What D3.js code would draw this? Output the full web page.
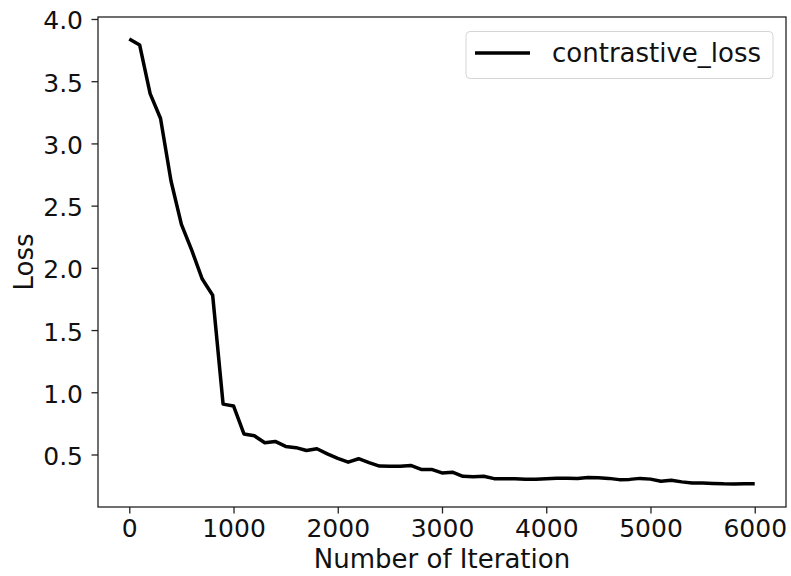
<!DOCTYPE html>
<html>
<head>
<meta charset="utf-8">
<script src="https://cdn.jsdelivr.net/npm/d3@7"></script>
<style>
  body { margin: 0; background: #fff; }
  text { font-family: "DejaVu Sans", sans-serif; fill: #111; }
</style>
</head>
<body>
<div class="chart"></div>
<script>
// data (one point every 100 iterations)
var iterations = d3.range(0, 6001, 100);
var lossValues = [
  3.84, 3.79, 3.40, 3.20, 2.70, 2.35, 2.14, 1.91, 1.78, 0.905,
  0.89, 0.665, 0.65, 0.595, 0.605, 0.565, 0.555, 0.532, 0.546, 0.505,
  0.468, 0.438, 0.466, 0.435, 0.407, 0.405, 0.405, 0.412, 0.38, 0.38,
  0.352, 0.358, 0.325, 0.322, 0.325, 0.306, 0.305, 0.306, 0.302, 0.302,
  0.306, 0.309, 0.31, 0.307, 0.315, 0.314, 0.308, 0.298, 0.30, 0.308,
  0.302, 0.285, 0.293, 0.28, 0.27, 0.271, 0.267, 0.264, 0.263, 0.264,
  0.264
];
var xTicks = [0, 1000, 2000, 3000, 4000, 5000, 6000];
var yTicks = [0.5, 1.0, 1.5, 2.0, 2.5, 3.0, 3.5, 4.0];
var seriesName = "contrastive_loss";
var xLabel = "Number of Iteration";
var yLabel = "Loss";

var svgWidth = 791;
var svgHeight = 576;

// plot frame in pixels
var margin = {
  top: 17,
  right: 5,
  bottom: 69,
  left: 98
};

var width = svgWidth - margin.left - margin.right;
var height = svgHeight - margin.top - margin.bottom;

var svg = d3
    .select(".chart")
    .append("svg")
    .attr("height", svgHeight)
    .attr("width", svgWidth);

svg.append("rect")
  .attr("width", svgWidth)
  .attr("height", svgHeight)
  .attr("fill", "#fff");

var chartGroup = svg.append("g")
  .attr("transform", `translate(${margin.left}, ${margin.top})`);

// scales with matplotlib-like 5% padding
var xLinearScale = d3.scaleLinear()
  .domain([-300, 6300])
  .range([0, width]);

var yLinearScale = d3.scaleLinear()
  .domain([0.078, 4.016])
  .range([height, 0]);

var bottomAxis = d3.axisBottom(xLinearScale)
  .tickValues(xTicks)
  .tickFormat(d3.format("d"))
  .tickSize(6.5)
  .tickPadding(5.5);

var leftAxis = d3.axisLeft(yLinearScale)
  .tickValues(yTicks)
  .tickFormat(d3.format(".1f"))
  .tickSize(6.5)
  .tickPadding(8.5);

var xAxis = chartGroup.append("g")
  .attr("transform", `translate(0, ${height})`)
  .call(bottomAxis);

var yAxis = chartGroup.append("g")
  .call(leftAxis);

chartGroup.selectAll(".domain").remove();
chartGroup.selectAll(".tick line")
  .attr("stroke", "#222")
  .attr("stroke-width", 1.3);
chartGroup.selectAll(".tick text")
  .attr("font-size", "25px")
  .attr("font-family", "DejaVu Sans, sans-serif")
  .attr("fill", "#111");
yAxis.selectAll(".tick text")
  .attr("dy", "0.4em");

// frame
chartGroup.append("rect")
  .attr("width", width)
  .attr("height", height)
  .attr("fill", "none")
  .attr("stroke", "#222")
  .attr("stroke-width", 1.3);

// the loss curve
var lossLine = d3.line()
  .x((d, i) => xLinearScale(iterations[i]))
  .y(d => yLinearScale(d));

chartGroup.append("path")
  .datum(lossValues)
  .attr("d", lossLine)
  .attr("fill", "none")
  .attr("stroke", "#000")
  .attr("stroke-width", 3.5)
  .attr("stroke-linejoin", "round");

// axis labels
chartGroup.append("text")
  .attr("x", width / 2)
  .attr("y", height + 61)
  .attr("text-anchor", "middle")
  .attr("font-size", "26px")
  .text(xLabel);

chartGroup.append("text")
  .attr("transform", "rotate(-90)")
  .attr("x", 0 - (height / 2))
  .attr("y", 0 - 65)
  .attr("text-anchor", "middle")
  .attr("font-size", "26px")
  .text(yLabel);

// legend
var legend = svg.append("g")
  .attr("transform", "translate(466, 31.5)");

legend.append("rect")
  .attr("width", 307)
  .attr("height", 47)
  .attr("rx", 4)
  .attr("fill", "#fff")
  .attr("fill-opacity", 0.8)
  .attr("stroke", "#d5d5d5")
  .attr("stroke-width", 1);

legend.append("line")
  .attr("x1", 9)
  .attr("x2", 64)
  .attr("y1", 21.5)
  .attr("y2", 21.5)
  .attr("stroke", "#000")
  .attr("stroke-width", 3.5);

legend.append("text")
  .attr("x", 86)
  .attr("y", 21.5)
  .attr("dy", "0.35em")
  .attr("font-size", "26px")
  .text(seriesName);
</script>
</body>
</html>
